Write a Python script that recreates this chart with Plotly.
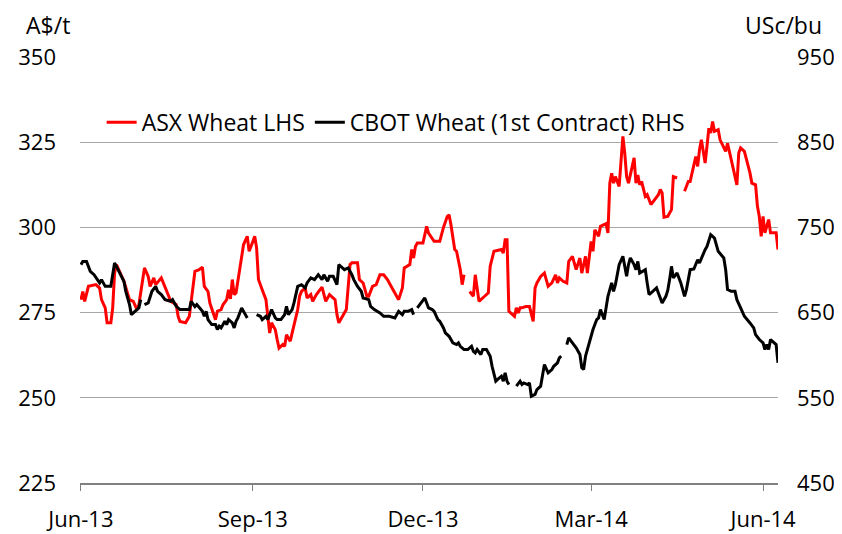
import plotly.graph_objects as go

asx_dates = [
    "2013-06-01", "2013-06-02", "2013-06-03", "2013-06-05", "2013-06-09", "2013-06-11", "2013-06-12",
    "2013-06-14", "2013-06-15", "2013-06-17", "2013-06-18", "2013-06-19", "2013-06-20", "2013-06-24",
    "2013-06-27", "2013-06-29", "2013-07-01", "2013-07-02", "2013-07-05", "2013-07-07", "2013-07-08",
    "2013-07-10", "2013-07-11", "2013-07-14", "2013-07-18", "2013-07-19", "2013-07-22", "2013-07-23",
    "2013-07-24", "2013-07-27", "2013-07-29", "2013-07-30", "2013-08-01", "2013-08-03", "2013-08-05",
    "2013-08-06", "2013-08-08", "2013-08-09", "2013-08-11", "2013-08-12", "2013-08-13", "2013-08-15",
    "2013-08-16", "2013-08-18", "2013-08-19", "2013-08-20", "2013-08-21", "2013-08-22", "2013-08-23",
    "2013-08-26", "2013-08-27", "2013-08-29", "2013-08-30", "2013-08-31", "2013-09-02", "2013-09-03",
    "2013-09-04", "2013-09-06", "2013-09-08", "2013-09-09", "2013-09-10", "2013-09-11", "2013-09-13",
    "2013-09-14", "2013-09-15", "2013-09-17", "2013-09-18", "2013-09-19", "2013-09-21", "2013-09-22",
    "2013-09-25", "2013-09-26", "2013-09-27", "2013-09-29", "2013-09-30", "2013-10-02", "2013-10-03",
    "2013-10-05", "2013-10-07", "2013-10-08", "2013-10-10", "2013-10-12", "2013-10-15", "2013-10-16",
    "2013-10-17", "2013-10-19", "2013-10-21", "2013-10-23", "2013-10-24", "2013-10-27", "2013-10-28",
    "2013-10-30", "2013-11-01", "2013-11-02", "2013-11-04", "2013-11-06", "2013-11-08", "2013-11-10",
    "2013-11-12", "2013-11-15", "2013-11-18", "2013-11-20", "2013-11-21", "2013-11-24", "2013-11-25",
    "2013-11-26", "2013-11-27", "2013-11-28", "2013-12-01", "2013-12-03", "2013-12-04", "2013-12-07",
    "2013-12-10", "2013-12-12", "2013-12-14", "2013-12-15", "2013-12-16", "2013-12-18", "2013-12-19",
    "2013-12-21", "2013-12-22", "2013-12-23", "2013-12-24", "2013-12-26", "2013-12-28", "2013-12-29",
    "2013-12-31", "2014-01-03", "2014-01-05", "2014-01-06", "2014-01-08", "2014-01-12", "2014-01-13",
    "2014-01-14", "2014-01-15", "2014-01-16", "2014-01-18", "2014-01-19", "2014-01-20", "2014-01-21",
    "2014-01-22", "2014-01-23", "2014-01-25", "2014-01-27", "2014-01-29", "2014-01-30", "2014-01-31",
    "2014-02-02", "2014-02-04", "2014-02-06", "2014-02-08", "2014-02-10", "2014-02-11", "2014-02-12",
    "2014-02-14", "2014-02-16", "2014-02-17", "2014-02-19", "2014-02-21", "2014-02-23", "2014-02-24",
    "2014-02-26", "2014-02-27", "2014-03-01", "2014-03-02", "2014-03-03", "2014-03-05", "2014-03-06",
    "2014-03-09", "2014-03-10", "2014-03-11", "2014-03-12", "2014-03-13", "2014-03-14", "2014-03-16",
    "2014-03-18", "2014-03-19", "2014-03-20", "2014-03-21", "2014-03-24", "2014-03-25", "2014-03-26",
    "2014-03-27", "2014-03-28", "2014-03-30", "2014-03-31", "2014-04-02", "2014-04-04", "2014-04-06",
    "2014-04-07", "2014-04-08", "2014-04-09", "2014-04-11", "2014-04-13", "2014-04-14", "2014-04-16",
    "2014-04-17", "2014-04-20", "2014-04-22", "2014-04-23", "2014-04-25", "2014-04-26", "2014-04-27",
    "2014-04-28", "2014-04-29", "2014-05-01", "2014-05-02", "2014-05-03", "2014-05-04", "2014-05-05",
    "2014-05-06", "2014-05-08", "2014-05-09", "2014-05-10", "2014-05-12", "2014-05-13", "2014-05-15",
    "2014-05-18", "2014-05-19", "2014-05-20", "2014-05-22", "2014-05-25", "2014-05-26", "2014-05-28",
    "2014-05-29", "2014-05-30", "2014-05-31", "2014-06-01", "2014-06-02", "2014-06-04", "2014-06-05",
    "2014-06-07", "2014-06-08", "2014-06-09",
]
asx_values = [
    278.8, 281.2, 278.3, 282.7, 283.2, 282.2, 278.8,
    276.4, 272.0, 272.0, 276.4, 286.6, 289.1, 284.2,
    278.8, 278.3, 275.9, 277.3, 288.1, 285.6, 282.7,
    285.2, 283.2, 285.2, 279.8, 278.3, 277.3, 273.9,
    272.4, 272.0, 273.9, 278.3, 287.1, 287.5, 288.3,
    282.7, 281.2, 277.8, 274.9, 272.9, 275.4, 275.9,
    277.3, 278.8, 281.7, 279.0, 284.7, 280.3, 280.8,
    292.5, 294.9, 297.4, 293.0, 294.4, 297.4, 294.0,
    284.7, 281.7, 278.8, 273.9, 269.0, 272.0, 270.0,
    267.1, 264.6, 265.6, 265.1, 268.5, 266.6, 269.0,
    275.9, 279.8, 281.2, 282.2, 279.3, 280.3, 278.3,
    280.3, 281.7, 282.5, 278.3, 280.3, 278.8, 274.4,
    272.0, 273.9, 275.9, 289.1, 289.6, 289.6, 284.7,
    283.7, 279.8, 279.8, 282.7, 283.2, 286.1, 286.1,
    284.7, 281.7, 278.8, 282.2, 288.1, 289.1, 293.5,
    291.0, 294.4, 295.4, 295.4, 300.3, 298.3, 295.9,
    295.9, 300.0, 303.2, 303.7, 300.8, 293.5, 293.0,
    287.6, 283.2, 286.1, None, 281.2, 279.8, 286.1,
    278.3, 279.8, 280.8, 288.6, 293.0, 293.5, 292.5,
    296.4, 296.4, 275.4, 274.4, 273.9, 276.4, 274.9,
    276.4, 276.4, 276.8, 276.8, 272.4, 282.2, 283.7,
    285.6, 286.6, 282.7, 283.7, 286.1, 283.7, 285.2,
    284.2, 283.7, 290.0, 291.5, 287.6, 291.0, 286.6,
    291.5, 286.6, 295.9, 293.0, 299.3, 297.4, 300.3,
    301.1, 298.4, 313.0, 315.9, 313.0, 314.9, 312.0,
    326.7, 321.8, 314.9, 313.0, 320.4, 313.0, 315.4,
    312.5, 313.5, 309.1, 309.6, 306.7, 308.1, 309.6,
    311.1, 310.1, 303.0, 303.2, 305.2, 314.9, 314.5,
    None, 310.6, 313.5, 313.5, 317.9, 320.8, 317.9,
    322.8, 325.7, 318.9, 323.8, 329.1, 327.7, 331.1,
    328.2, 328.7, 325.7, 324.7, 322.3, 324.7, 319.4,
    312.5, 321.8, 323.3, 322.3, 316.0, 313.0, 312.5,
    306.2, 303.2, 297.4, 303.2, 298.4, 302.3, 298.4,
    298.4, 298.4, 293.5,
]

cbot_dates = [
    "2013-06-01", "2013-06-02", "2013-06-04", "2013-06-06", "2013-06-08", "2013-06-09", "2013-06-11",
    "2013-06-12", "2013-06-14", "2013-06-17", "2013-06-19", "2013-06-20", "2013-06-22", "2013-06-24",
    "2013-06-25", "2013-06-27", "2013-06-28", "2013-06-30", "2013-07-02", "2013-07-03", "2013-07-04",
    "2013-07-05", "2013-07-07", "2013-07-09", "2013-07-11", "2013-07-12", "2013-07-14", "2013-07-16",
    "2013-07-19", "2013-07-20", "2013-07-22", "2013-07-24", "2013-07-29", "2013-07-30", "2013-08-01",
    "2013-08-02", "2013-08-04", "2013-08-05", "2013-08-06", "2013-08-07", "2013-08-08", "2013-08-10",
    "2013-08-12", "2013-08-13", "2013-08-14", "2013-08-15", "2013-08-17", "2013-08-18", "2013-08-19",
    "2013-08-21", "2013-08-22", "2013-08-23", "2013-08-24", "2013-08-26", "2013-08-28", "2013-08-29",
    "2013-08-31", "2013-09-03", "2013-09-05", "2013-09-06", "2013-09-08", "2013-09-09", "2013-09-11",
    "2013-09-13", "2013-09-14", "2013-09-16", "2013-09-18", "2013-09-19", "2013-09-20", "2013-09-22",
    "2013-09-23", "2013-09-25", "2013-09-27", "2013-09-29", "2013-09-30", "2013-10-02", "2013-10-04",
    "2013-10-06", "2013-10-08", "2013-10-09", "2013-10-11", "2013-10-12", "2013-10-14", "2013-10-16",
    "2013-10-17", "2013-10-18", "2013-10-20", "2013-10-22", "2013-10-24", "2013-10-25", "2013-10-27",
    "2013-10-29", "2013-10-30", "2013-11-02", "2013-11-03", "2013-11-05", "2013-11-08", "2013-11-10",
    "2013-11-13", "2013-11-16", "2013-11-18", "2013-11-20", "2013-11-21", "2013-11-23", "2013-11-25",
    "2013-11-26", "2013-11-27", "2013-11-28", "2013-11-30", "2013-12-02", "2013-12-04", "2013-12-06",
    "2013-12-07", "2013-12-09", "2013-12-10", "2013-12-12", "2013-12-13", "2013-12-15", "2013-12-17",
    "2013-12-19", "2013-12-20", "2013-12-21", "2013-12-23", "2013-12-25", "2013-12-27", "2013-12-28",
    "2013-12-29", "2013-12-30", "2014-01-01", "2014-01-02", "2014-01-04", "2014-01-06", "2014-01-07",
    "2014-01-09", "2014-01-10", "2014-01-12", "2014-01-13", "2014-01-14", "2014-01-15", "2014-01-16",
    "2014-01-18", "2014-01-20", "2014-01-22", "2014-01-23", "2014-01-24", "2014-01-26", "2014-01-27",
    "2014-01-28", "2014-01-30", "2014-01-31", "2014-02-02", "2014-02-04", "2014-02-06", "2014-02-08",
    "2014-02-09", "2014-02-11", "2014-02-12", "2014-02-13", "2014-02-15", "2014-02-16", "2014-02-17",
    "2014-02-19", "2014-02-21", "2014-02-23", "2014-02-24", "2014-02-25", "2014-02-26", "2014-02-28",
    "2014-03-02", "2014-03-04", "2014-03-05", "2014-03-06", "2014-03-08", "2014-03-10", "2014-03-12",
    "2014-03-13", "2014-03-14", "2014-03-16", "2014-03-18", "2014-03-20", "2014-03-21", "2014-03-22",
    "2014-03-24", "2014-03-25", "2014-03-26", "2014-03-27", "2014-03-30", "2014-03-31", "2014-04-01",
    "2014-04-03", "2014-04-05", "2014-04-06", "2014-04-08", "2014-04-10", "2014-04-11", "2014-04-12",
    "2014-04-13", "2014-04-14", "2014-04-16", "2014-04-18", "2014-04-20", "2014-04-21", "2014-04-23",
    "2014-04-25", "2014-04-27", "2014-04-28", "2014-04-30", "2014-05-01", "2014-05-02", "2014-05-03",
    "2014-05-04", "2014-05-06", "2014-05-07", "2014-05-08", "2014-05-11", "2014-05-12", "2014-05-13",
    "2014-05-15", "2014-05-17", "2014-05-18", "2014-05-20", "2014-05-22", "2014-05-25", "2014-05-27",
    "2014-05-28", "2014-05-30", "2014-06-01", "2014-06-02", "2014-06-03", "2014-06-04", "2014-06-05",
    "2014-06-07", "2014-06-08", "2014-06-09",
]
cbot_values = [
    706.3, 710.1, 710.1, 698.4, 694.5, 690.7, 684.8,
    688.7, 680.8, 680.8, 708.3, 704.3, 694.5, 686.7,
    675.0, 659.4, 647.6, 651.5, 655.5, 665.2, None,
    659.4, 661.4, 675.0, 680.8, 675.0, 671.1, 665.2,
    663.3, 665.2, 657.4, 653.5, 653.5, 663.3, 657.0,
    659.4, 653.5, 651.5, 645.7, 651.5, 641.8, 635.9,
    635.9, 630.1, 634.0, 632.0, 639.8, 635.9, 641.8,
    637.9, 632.0, 639.8, 643.8, 655.5, 647.6, 643.8,
    None, 647.6, 645.7, 641.8, 645.7, 641.8, 653.5,
    643.8, 641.8, 641.8, 647.6, 657.4, 647.6, 653.5,
    661.4, 680.8, 682.8, 679.0, 684.8, 690.7, 688.7,
    694.5, 688.7, 694.5, 686.7, 692.6, 692.6, 682.8,
    706.3, 704.3, 700.4, 702.4, 694.5, 688.7, 680.8,
    675.0, 667.2, 665.2, 657.4, 653.5, 649.6, 645.7,
    645.7, 643.8, 651.5, 647.6, 651.5, 651.5, 653.5,
    647.6, None, 655.5, 661.4, 667.2, 655.5, 653.5,
    651.5, 641.8, 639.8, 632.0, 626.2, 622.2, 614.5,
    612.5, 614.5, 610.5, 606.6, 606.6, 610.5, 604.6,
    602.7, 606.6, 600.8, 606.6, 606.6, 598.8, 587.0,
    569.5, 571.5, 575.3, 569.5, 579.3, 569.5, 565.6,
    None, 563.6, 569.5, 565.6, 567.5, 565.6, 567.5,
    551.9, 553.9, 559.7, 563.6, 589.0, 579.3, 583.2,
    587.0, 591.0, 596.9, 598.8, None, 612.5, 620.3,
    614.5, 608.6, 600.8, 585.2, 583.2, 598.8, 614.5,
    630.1, 641.8, 643.8, 653.5, 641.8, 669.1, 684.8,
    675.0, 682.8, 706.3, 716.0, 692.6, 706.3, 714.1,
    706.3, 700.4, 710.1, 696.5, 700.4, 684.8, 671.1,
    675.0, 679.0, 673.1, 661.4, 669.1, 676.0, 688.7,
    704.3, 690.7, 696.5, 684.8, 669.1, 677.0, 700.4,
    701.2, 712.1, 708.3, 720.0, 723.9, 727.7, 733.6,
    741.4, 737.5, 727.7, 721.9, 714.1, 700.4, 677.0,
    675.0, 675.0, 665.2, 655.5, 645.7, 637.9, 632.0,
    624.2, 618.4, 614.5, 606.6, 612.5, 606.6, 618.4,
    614.5, 612.5, 591.0,
]

left_ticks = [225, 250, 275, 300, 325, 350]
right_ticks = [450, 550, 650, 750, 850, 950]

FONT = "Open Sans"
TICK_FS = 22
LEG_FS = 23
TITLE_FS = 23

fig = go.Figure()
fig.add_trace(go.Scatter(
    x=asx_dates, y=asx_values, name="ASX Wheat LHS", mode="lines",
    line=dict(color="#FF0000", width=3), connectgaps=False,
))
fig.add_trace(go.Scatter(
    x=cbot_dates, y=cbot_values, name="CBOT Wheat (1st Contract) RHS", mode="lines",
    line=dict(color="#000000", width=3), connectgaps=False, yaxis="y2",
))

# the page body keeps the browser's default 8px margin, so the figure is
# sized to fit inside the 842x534 window
fig.update_layout(
    width=834, height=526,
    margin=dict(l=72, r=64, t=49, b=51, autoexpand=False),
    paper_bgcolor="white", plot_bgcolor="white",
    font=dict(family=FONT, size=TICK_FS, color="#000000"),
    showlegend=True,
    legend=dict(
        orientation="h", x=0.031, xanchor="left", y=0.847, yanchor="middle",
        font=dict(family=FONT, size=LEG_FS), bgcolor="rgba(0,0,0,0)",
        itemwidth=30, tracegroupgap=0,
    ),
    xaxis=dict(
        type="date", range=["2013-05-31 12:00", "2014-06-09 00:00"],
        tick0="2013-06-01", dtick="M3", tickformat="%b-%y",
        ticks="outside", ticklen=6, tickcolor="#808080", tickwidth=1,
        showline=True, linecolor="#808080", linewidth=1.5,
        showgrid=False, zeroline=False, automargin=False,
        ticklabelstandoff=10,
        tickfont=dict(family=FONT, size=TICK_FS),
    ),
    yaxis=dict(
        range=[225, 350], tickvals=left_ticks,
        showgrid=True, gridcolor="#A6A6A6", gridwidth=1,
        zeroline=False, showline=False, ticks="", automargin=False,
        ticklabelstandoff=23,
        tickfont=dict(family=FONT, size=TICK_FS),
    ),
    yaxis2=dict(
        range=[450, 950], tickvals=right_ticks, overlaying="y", side="right",
        showgrid=False, zeroline=False, showline=False, ticks="", automargin=False,
        ticklabelstandoff=18,
        tickfont=dict(family=FONT, size=TICK_FS),
    ),
    annotations=[
        dict(text="A$/t", xref="paper", yref="paper", x=-0.08, y=1.075,
             xanchor="left", yanchor="middle", showarrow=False,
             font=dict(family=FONT, size=TITLE_FS)),
        dict(text="USc/bu", xref="paper", yref="paper", x=1.066, y=1.075,
             xanchor="right", yanchor="middle", showarrow=False,
             font=dict(family=FONT, size=TITLE_FS)),
    ],
)

fig.write_html("out.html")
